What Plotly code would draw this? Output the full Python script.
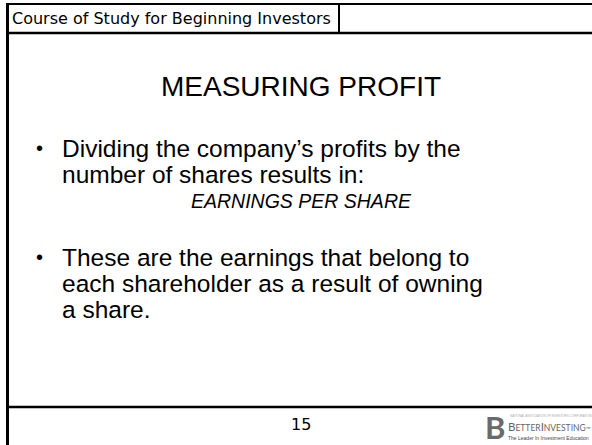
import plotly.graph_objects as go

W, H = 592, 445
header_text = "Course of Study for Beginning Investors"
title_text = "MEASURING PROFIT"
bullet1_lines = ["Dividing the company\u2019s profits by the", "number of shares results in:"]
emphasis_text = "EARNINGS PER SHARE"
bullet2_lines = ["These are the earnings that belong to", "each shareholder as a result of owning", "a share."]
page_number = "15"
logo_top = "NATIONAL ASSOCIATION OF INVESTORS CORPORATION"
logo_tag = "The Leader In Investment Education"

fig = go.Figure()
fig.update_layout(
    width=W, height=H, margin=dict(l=0, r=0, t=0, b=0),
    paper_bgcolor="white", plot_bgcolor="white", showlegend=False,
    xaxis=dict(range=[0, W], visible=False, fixedrange=True),
    yaxis=dict(range=[H, 0], visible=False, fixedrange=True),
)

shapes = []
shapes.append(dict(type="line", x0=7.5, x1=7.5, y0=3, y1=H, line=dict(color="black", width=3)))
shapes.append(dict(type="line", x0=6, x1=W, y0=4, y1=4, line=dict(color="black", width=2)))
shapes.append(dict(type="line", x0=6, x1=W, y0=33, y1=33, line=dict(color="black", width=2.5)))
shapes.append(dict(type="line", x0=339, x1=339, y0=4, y1=33, line=dict(color="black", width=2)))
shapes.append(dict(type="line", x0=6, x1=W, y0=407, y1=407, line=dict(color="black", width=2.5)))
fig.update_layout(shapes=shapes)

ann = []
def txt(x, y, s, size, xanchor="left", family="Liberation Sans, Arial", color="black", italic=False):
    if italic:
        s = "<i>" + s + "</i>"
    ann.append(dict(x=x, y=y, xref="x", yref="y", text=s, showarrow=False,
                    xanchor=xanchor, yanchor="middle",
                    font=dict(size=size, family=family, color=color)))

txt(10, 18, header_text, 16, family="DejaVu Sans")
txt(301, 86, title_text, 28, xanchor="center")
body_size = 24.5
y = 148
txt(34, y, "\u2022", 20)
for line in bullet1_lines:
    txt(60, y, line, body_size)
    y += 26
txt(301, 201, emphasis_text, 19.5, xanchor="center", italic=True)
y = 257
txt(34, y, "\u2022", 20)
for line in bullet2_lines:
    txt(60, y, line, body_size)
    y += 26
txt(301, 424, page_number, 16, xanchor="center", family="DejaVu Sans")

# logo
txt(495, 427, "<b>B</b>", 31, xanchor="center", color="#6a6a6a", family="Lato")
txt(508, 416, logo_top, 3, color="#aaaaaa")
txt(506, 426, "B<span style='font-size:8.5px'>ETTER</span>I<span style='font-size:8.5px'>NVESTING</span><span style='font-size:6px'>\u2122</span>", 11.5, color="#666666", family="Lato")
txt(506, 438, logo_tag, 5, color="#444444")
fig.update_layout(annotations=ann)

fig.write_html("out.html", config={"displayModeBar": False},
               post_script="document.body.style.margin='0';document.body.style.overflow='hidden';")
